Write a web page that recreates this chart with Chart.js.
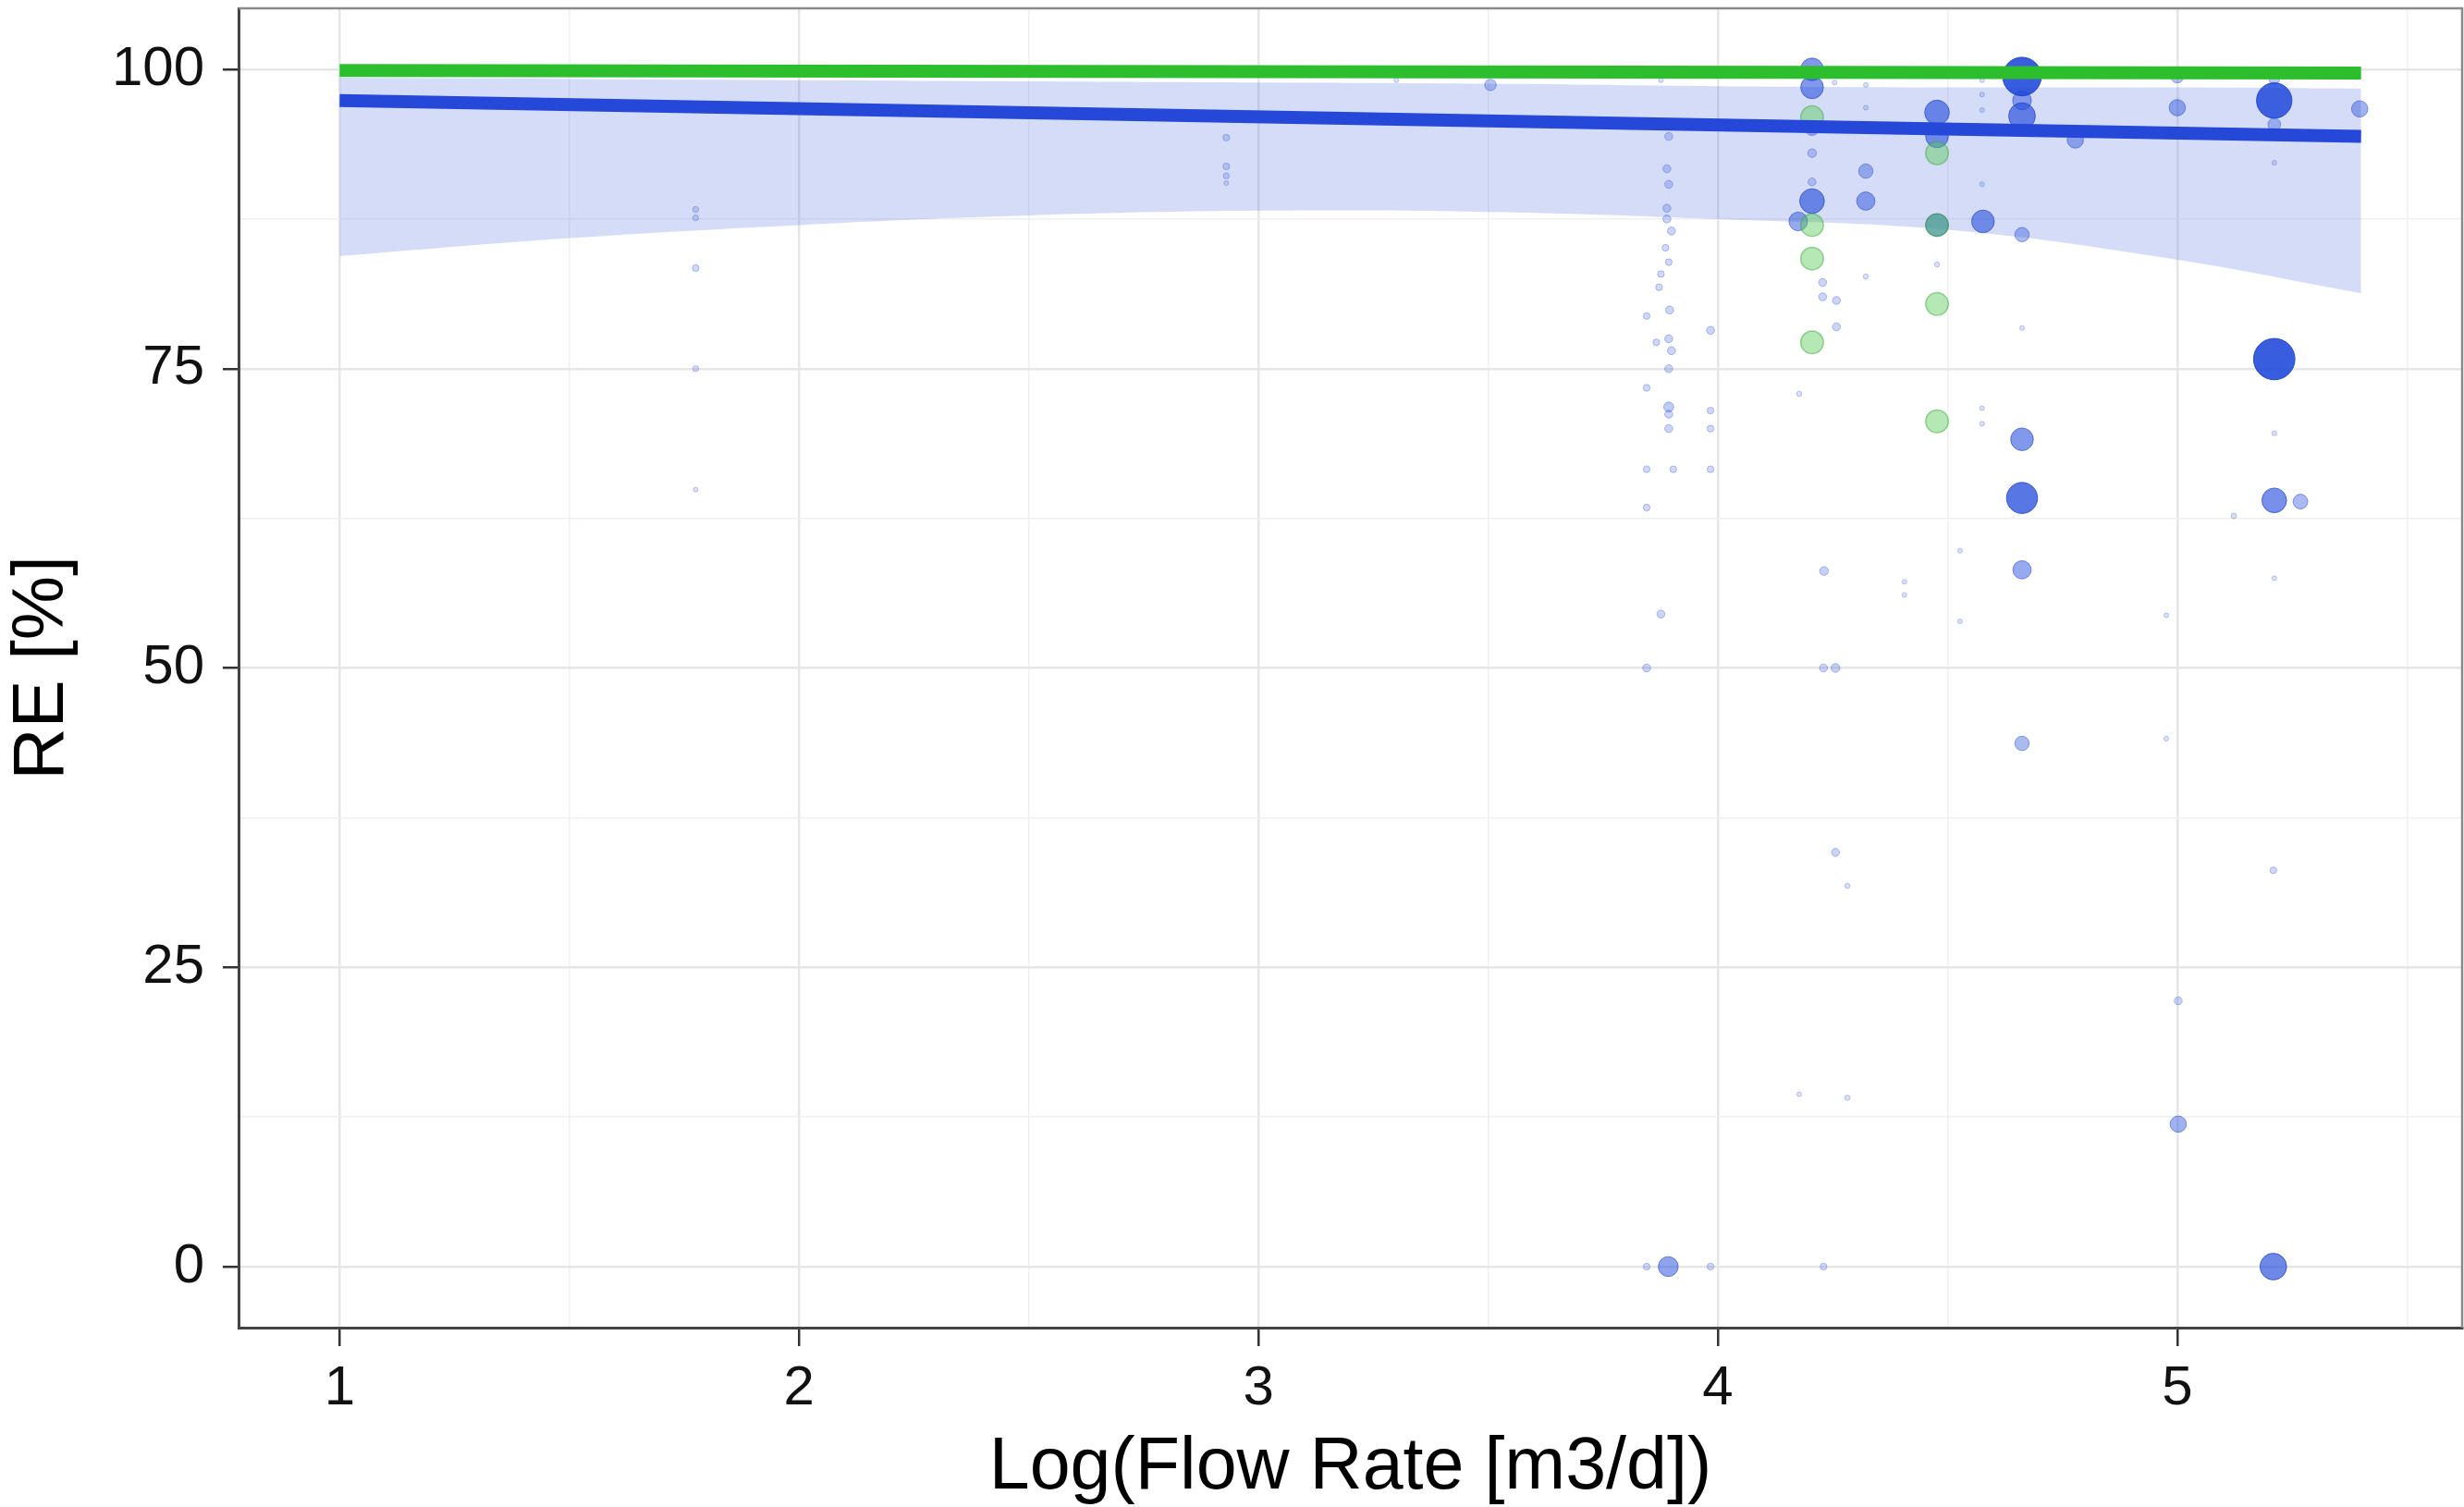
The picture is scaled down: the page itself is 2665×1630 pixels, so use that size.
<!DOCTYPE html>
<html><head><meta charset="utf-8">
<script src="https://cdn.jsdelivr.net/npm/chart.js@4.4.0/dist/chart.umd.min.js"></script>
<style>html,body{margin:0;padding:0;background:#fff;overflow:hidden}</style>
</head><body>
<canvas id="c" width="2665" height="1630" style="width:2665px;height:1630px;display:block"></canvas>
<script>
// ---- tick values ----
const xTickVals = [1, 1.5, 2, 2.5, 3, 3.5, 4, 4.5, 5, 5.5];
const yTickVals = [0, 12.5, 25, 37.5, 50, 62.5, 75, 87.5, 100];

// ---- fitted lines and confidence band ----
const fitX = [1, 5.4];
const blueFitY = [97.4, 94.4];
const greenFitY = [99.9, 99.7];
const bandX = [1, 1.5, 2, 2.5, 3, 3.5, 4, 4.5, 5, 5.4];
const bandLower = [84.4, 85.9, 87.0, 87.8, 88.2, 88.1, 87.5, 86.6, 84.1, 81.3];
const bandUpper = [99.3, 99.2, 99.1, 99.0, 98.9, 98.8, 98.6, 98.5, 98.5, 98.4];

// ---- blue observations: log flow rate, RE, weight ----
const blueX = [1.775,1.775,1.775,1.775,1.775, 2.93,2.93,2.93,2.93, 3.30, 3.505,
  3.876,3.893,3.889,3.893,3.889,3.889,3.899,3.886,3.893,3.876,3.872,3.895,3.845,3.984,3.893,3.899,3.866,3.893,3.845,3.893,3.893,3.984,3.893,3.984,3.845,3.903,3.984,3.845,3.876,3.845,
  3.845,3.892,3.984,4.230,
  4.205,4.205,4.205,4.205,4.205,4.205,4.175,4.228,4.228,4.258,4.258,4.177,4.231,4.406,4.406,4.527,4.527,4.230,4.256,4.256,4.282,4.177,4.282,4.254,4.322,4.322,4.322,4.322,4.322,
  4.477,4.477,4.477,4.477,4.577,4.575,4.575,4.575,4.575,4.575,4.575,
  4.662,4.662,4.662,4.778,4.662,4.662,4.662,4.662,4.662,4.662,
  4.976,4.976,5.0,5.0,5.002,5.002,
  5.211,5.211,5.211,5.211,5.211,5.211,5.211,5.268,5.123,5.211,5.209,5.209,
  5.397];
const blueY = [88.3,87.6,83.4,75.0,64.9, 94.3,91.9,91.1,90.5, 99.1, 98.7,
  99.1,94.4,91.7,90.4,88.4,87.5,86.5,85.1,83.9,82.9,81.8,79.9,79.4,78.2,77.5,76.5,77.2,75.0,73.4,71.8,71.2,71.5,70.0,70.0,66.6,66.6,66.6,63.4,54.5,50.0,
  0,0,0,0,
  100.0,98.5,95.1,93.0,90.6,89.0,87.3,82.2,81.0,80.7,78.5,72.9,58.1,57.2,56.1,59.8,53.9,50.0,50.0,34.6,31.8,14.4,14.1,98.9,98.7,96.8,91.5,89.0,82.7,
  96.4,94.4,87.0,83.7,87.3,71.7,70.4,99.1,97.9,96.6,90.4,
  99.4,97.4,96.1,94.1,86.2,78.4,69.1,64.2,58.2,43.7,
  54.4,44.1,99.4,96.8,22.2,11.9,
  99.2,97.4,95.4,92.2,75.8,69.6,64.0,63.9,62.7,57.5,33.1,0,
  96.7];
const blueW = [0.8,0.8,1,0.8,0.5, 1,1,0.8,0.5, 0.5, 2.2,
  0.5,1.3,1.3,1.3,1.3,1.3,1.3,1,1,1,1,1.3,1,1.3,1.3,1.3,1,1.3,1,1.8,1.3,1,1.3,1,1,1,1,1,1.3,1.3,
  1,4.3,1,1,
  5,5,3,1.5,1.3,5.5,4,1.3,1.3,1.3,1.3,0.6,1.5,0.5,0.5,0.5,0.5,1.3,1.5,1.3,0.6,0.5,0.6,0.5,0.5,0.5,2.9,3.9,0.6,
  5.5,5,5,0.6,5,0.5,0.5,0.5,0.5,0.5,0.5,
  9,4,6,3.4,2.9,0.5,5,7.1,3.9,2.9,
  0.5,0.5,2.5,3.4,1.3,3.4,
  2,8.2,2.5,0.5,9.7,0.5,5.5,3,0.7,0.5,1,6,
  3.4];

// ---- green observations ----
const greenX = [4.205, 4.205, 4.205, 4.205, 4.477, 4.477, 4.477, 4.477];
const greenY = [96.0, 87.0, 84.2, 77.2, 93.0, 87.0, 80.4, 70.6];
const greenW = [5, 5, 5, 5, 5, 5, 5, 5];

// ---- build library data ----
const radius = w => 1.5 + 2.15 * w;
const alphaOf = w => Math.min(0.9, 0.12 + 0.09 * w);
const bluePts = blueX.map((x, i) => ({x, y: blueY[i], r: radius(blueW[i]), w: blueW[i]}));
const greenPts = greenX.map((x, i) => ({x, y: greenY[i], r: radius(greenW[i]), w: greenW[i]}));
const lowerPts = bandX.map((x, i) => ({x, y: bandLower[i]}));
const upperPts = bandX.map((x, i) => ({x, y: bandUpper[i]}));
const bluePtsFit = fitX.map((x, i) => ({x, y: blueFitY[i]}));
const greenPtsFit = fitX.map((x, i) => ({x, y: greenFitY[i]}));

const frame = {
  id: 'frame',
  afterDraw(chart) {
    const {ctx, chartArea: a} = chart;
    ctx.save();
    ctx.strokeStyle = '#8a8a8a';
    ctx.lineWidth = 2.5;
    ctx.beginPath();
    ctx.moveTo(a.left, a.top); ctx.lineTo(a.right, a.top); ctx.lineTo(a.right, a.bottom);
    ctx.stroke();
    ctx.restore();
  }
};

const zeroPad = s => { s.paddingLeft = 0; s.paddingRight = 0; s.paddingTop = 0; s.paddingBottom = 0; };
const isMajorX = v => Math.abs(v - Math.round(v)) < 1e-6;
const isMajorY = v => Math.abs(v / 25 - Math.round(v / 25)) < 1e-6;

new Chart(document.getElementById('c'), {
  type: 'scatter',
  data: {
    datasets: [
      {type: 'line', data: lowerPts, borderWidth: 0, borderColor: 'rgba(0,0,0,0)', pointRadius: 0, fill: false, tension: 0.4, order: 10},
      {type: 'line', data: upperPts, borderWidth: 0, borderColor: 'rgba(0,0,0,0)', pointRadius: 0, fill: '-1', backgroundColor: 'rgba(45,80,215,0.2)', tension: 0.4, order: 9},
      {type: 'bubble', data: bluePts,
        backgroundColor: c => 'rgba(35,75,220,' + alphaOf(c.raw ? c.raw.w : 1) + ')',
        borderColor: c => 'rgba(35,70,200,' + Math.min(1, alphaOf(c.raw ? c.raw.w : 1) + 0.1) + ')',
        borderWidth: 1, order: 5},
      {type: 'bubble', data: greenPts, backgroundColor: 'rgba(90,205,90,0.45)', borderColor: 'rgba(60,170,60,0.5)', borderWidth: 1.5, order: 4},
      {type: 'line', data: bluePtsFit, borderColor: '#2548d8', borderWidth: 14, pointRadius: 0, fill: false, order: 2},
      {type: 'line', data: greenPtsFit, borderColor: '#2dbe2d', borderWidth: 14, pointRadius: 0, fill: false, order: 1}
    ]
  },
  options: {
    responsive: false,
    animation: false,
    events: [],
    layout: {autoPadding: false, padding: {left: 0, right: 2, top: 9, bottom: 0}},
    plugins: {legend: {display: false}, tooltip: {enabled: false}},
    scales: {
      x: {
        type: 'linear', min: 0.78, max: 5.62,
        afterBuildTicks: ax => { ax.ticks = xTickVals.map(v => ({value: v})); },
        afterFit: s => { s.height = 194; zeroPad(s); },
        grid: {
          color: c => isMajorX(c.tick.value) ? '#e6e6e6' : '#f0f0f0',
          lineWidth: c => isMajorX(c.tick.value) ? 2.5 : 1.5,
          tickColor: c => isMajorX(c.tick.value) ? '#333' : 'rgba(0,0,0,0)',
          tickWidth: 2.5, tickLength: 20, drawOnChartArea: true
        },
        border: {display: true, color: '#444', width: 3},
        ticks: {
          autoSkip: false, maxRotation: 0, padding: 10, color: '#111',
          font: {family: '"Liberation Sans", Arial, sans-serif', size: 60},
          callback: v => isMajorX(v) ? String(Math.round(v)) : ''
        },
        title: {display: true, text: 'Log(Flow Rate [m3/d])', color: '#000',
          font: {family: '"Liberation Sans", Arial, sans-serif', size: 79}, padding: {top: 0, bottom: -6}}
      },
      y: {
        type: 'linear', min: -5.1, max: 105.1,
        afterBuildTicks: ax => { ax.ticks = yTickVals.map(v => ({value: v})); },
        afterFit: s => { s.width = 258; zeroPad(s); },
        grid: {
          color: c => isMajorY(c.tick.value) ? '#e6e6e6' : '#f0f0f0',
          lineWidth: c => isMajorY(c.tick.value) ? 2.5 : 1.5,
          tickColor: c => isMajorY(c.tick.value) ? '#333' : 'rgba(0,0,0,0)',
          tickWidth: 2.5, tickLength: 17
        },
        border: {display: true, color: '#444', width: 3},
        ticks: {
          autoSkip: false, padding: 20, color: '#111',
          font: {family: '"Liberation Sans", Arial, sans-serif', size: 60},
          callback: v => isMajorY(v) ? String(Math.round(v)) : ''
        },
        title: {display: true, text: 'RE [%]', color: '#000',
          font: {family: '"Liberation Sans", Arial, sans-serif', size: 78}, padding: {top: 0, bottom: 0}}
      }
    }
  },
  plugins: [frame]
});
</script>
</body></html>
